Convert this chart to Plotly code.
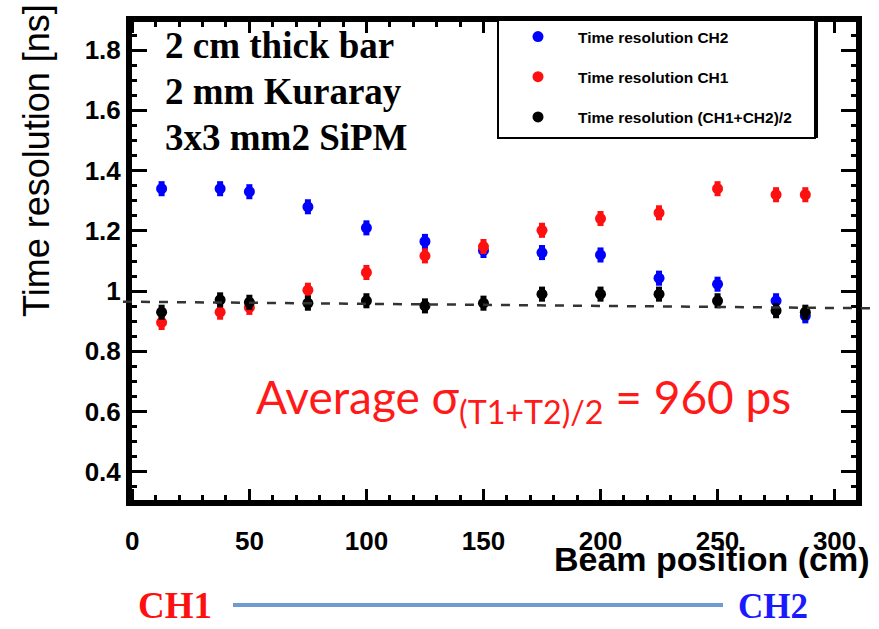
import plotly.graph_objects as go

# ---------------- data ----------------
beam_pos = [12.5, 37.5, 50, 75, 100, 125, 150, 175, 200, 225, 250, 275, 287.5]
res_ch2 = [1.34, 1.34, 1.33, 1.28, 1.21, 1.165, 1.135, 1.128, 1.12, 1.043, 1.023, 0.968, 0.918]
res_ch1 = [0.896, 0.93, 0.946, 1.003, 1.062, 1.117, 1.148, 1.202, 1.241, 1.26, 1.34, 1.32, 1.32]
res_avg = [0.93, 0.971, 0.963, 0.96, 0.968, 0.951, 0.96, 0.99, 0.99, 0.99, 0.968, 0.935, 0.93]
err = [0.025, 0.025, 0.025, 0.025, 0.025, 0.025, 0.025, 0.025, 0.025, 0.025, 0.025, 0.025, 0.025]
fit_x = [-4, 316]
fit_y = [0.965, 0.943]

x_range = [-1, 310]
y_range = [0.3, 1.9]

series = [
    ("Time resolution CH2", res_ch2, "#0000ff"),
    ("Time resolution CH1", res_ch1, "#ff1010"),
    ("Time resolution (CH1+CH2)/2", res_avg, "#000000"),
]

fig = go.Figure()
for i, (name, vals, col) in enumerate(series):
    fig.add_trace(go.Scatter(
        x=beam_pos, y=vals, mode="markers", name=name,
        legendgroup=f"g{i}",
        marker=dict(color=col, size=11, symbol="circle"),
        error_y=dict(type="data", array=err, color=col, thickness=6, width=0),
    ))

def px_(v):
    return (v - x_range[0]) / (x_range[1] - x_range[0])

def py_(v):
    return (v - y_range[0]) / (y_range[1] - y_range[0])

W, H = 728, 482  # plot area size in px
L, T = 130, 20

def X(p):
    return (p - L) / W

def Y(p):
    return (T + H - p) / H

shapes = [
    # frame around the plot area
    dict(type="rect", xref="paper", yref="paper", x0=0, x1=1, y0=0, y1=1,
         line=dict(color="black", width=4), fillcolor="rgba(0,0,0,0)"),
    # legend box
    dict(type="rect", xref="paper", yref="paper",
         x0=X(498), x1=X(815), y0=Y(138), y1=1,
         line=dict(color="black", width=2), fillcolor="white"),
    dict(type="line", xref="paper", yref="paper",
         x0=X(816), x1=X(816), y0=Y(138), y1=1,
         line=dict(color="black", width=4)),
    # linear fit
    dict(type="line", xref="paper", yref="paper",
         x0=px_(fit_x[0]), y0=py_(fit_y[0]), x1=px_(fit_x[1]), y1=py_(fit_y[1]),
         line=dict(color="#333333", width=2.5, dash="dash")),
    # CH1 -> CH2 bar below the plot
    dict(type="line", xref="paper", yref="paper",
         x0=X(233), x1=X(723), y0=Y(605), y1=Y(605),
         line=dict(color="#6f9bd3", width=4)),
]

annotations = []
for txt, yc in [("2 cm thick bar", 45), ("2 mm Kuraray", 91), ("3x3 mm2 SiPM", 137)]:
    annotations.append(dict(
        text=txt, x=X(163), y=Y(yc), xref="paper", yref="paper",
        xanchor="left", yanchor="middle", showarrow=False,
        font=dict(family="Liberation Serif", size=37, color="black", weight="bold")))

annotations += [
    dict(text="Average σ<sub>(T1+T2)/2</sub> = 960 ps", x=X(254), y=Y(400),
         xref="paper", yref="paper", xanchor="left", yanchor="middle", showarrow=False,
         font=dict(family="Lato", size=46, color="#ff1a1a")),
    dict(text="Time resolution [ns]", x=X(37), y=Y(161),
         xref="paper", yref="paper", xanchor="center", yanchor="middle", textangle=-90,
         showarrow=False, font=dict(family="Liberation Sans", size=36, color="black")),
    dict(text="<b>Beam position (cm)</b>", x=X(871), y=Y(559),
         xref="paper", yref="paper", xanchor="right", yanchor="middle",
         showarrow=False, font=dict(family="Liberation Sans", size=34, color="black")),
    dict(text="<b>CH1</b>", x=X(136), y=Y(628),
         xref="paper", yref="paper", xanchor="left", yanchor="bottom",
         showarrow=False, font=dict(family="Liberation Serif", size=37, color="#ff1010")),
    dict(text="<b>CH2</b>", x=X(736), y=Y(628),
         xref="paper", yref="paper", xanchor="left", yanchor="bottom",
         showarrow=False, font=dict(family="Liberation Serif", size=35, color="#1a1aff")),
]

fig.update_layout(
    width=879, height=629,
    margin=dict(l=L, r=879 - L - W, t=T, b=629 - T - H, autoexpand=False),
    paper_bgcolor="white", plot_bgcolor="white",
    showlegend=True,
    legend=dict(x=X(498), y=1, xanchor="left", yanchor="top",
                bgcolor="rgba(0,0,0,0)", borderwidth=0,
                tracegroupgap=17, itemwidth=70,
                font=dict(family="Liberation Sans", size=15.5, color="black", weight="bold")),
    shapes=shapes,
    annotations=annotations,
    xaxis=dict(range=x_range, showgrid=False, zeroline=False, automargin=False,
               showline=True, linecolor="black", linewidth=4, mirror="ticks",
               tickmode="linear", tick0=0, dtick=50,
               ticks="inside", ticklen=13, tickwidth=3, tickcolor="black",
               ticklabelstandoff=13,
               tickfont=dict(family="Liberation Sans", size=26, color="black", weight="bold"),
               minor=dict(dtick=10, tick0=0, ticks="inside", ticklen=7, tickwidth=2.5,
                          tickcolor="black", showgrid=False)),
    yaxis=dict(range=y_range, showgrid=False, zeroline=False, automargin=False,
               showline=True, linecolor="black", linewidth=4, mirror="ticks",
               tickmode="linear", tick0=0, dtick=0.2,
               ticks="inside", ticklen=17, tickwidth=3, tickcolor="black",
               tickfont=dict(family="Liberation Sans", size=26, color="black", weight="bold"),
               minor=dict(dtick=0.05, tick0=0, ticks="inside", ticklen=7, tickwidth=2.5,
                          tickcolor="black", showgrid=False)),
)

fig.write_html("out.html", config={"displayModeBar": False},
               post_script="document.body.style.margin='0px';")
